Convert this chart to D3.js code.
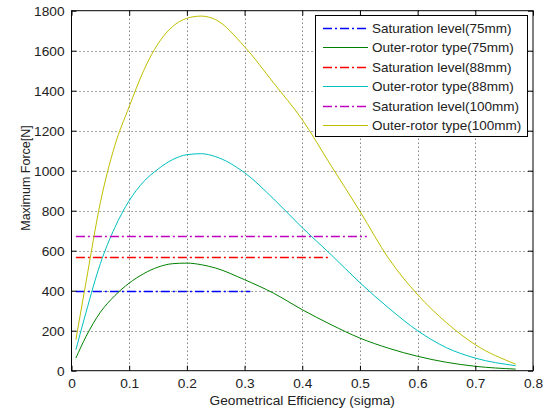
<!DOCTYPE html>
<html><head><meta charset="utf-8">
<script src="https://cdn.jsdelivr.net/npm/d3@7"></script>
<style>
html,body{margin:0;padding:0;background:#fff;}
svg{display:block;font-family:"Liberation Sans",Arial,sans-serif;}
</style></head>
<body><svg id="c" width="552" height="414"></svg>
<script>
const sigma = [0.0076,0.025,0.05,0.075,0.1,0.125,0.15,0.175,0.2,0.225,0.25,0.3,0.35,0.4,0.45,0.5,0.55,0.6,0.65,0.7,0.77];
const outer75  = [63,170,292,375,438,485,518,535,538,530,513,455,388,305,230,163,112,72,42,22,8];
const outer88  = [105,290,535,715,850,945,1008,1055,1080,1085,1070,990,860,715,580,440,313,200,115,63,25];
const outer100 = [155,440,840,1125,1320,1500,1635,1720,1762,1773,1755,1620,1440,1255,1025,797,560,380,240,130,33];
const satLevels = [401,566,675];
const satEnds = [0.31,0.445,0.512];
const satStart = 0.0076;
const xTicks = [0,0.1,0.2,0.3,0.4,0.5,0.6,0.7,0.8];
const yTicks = [0,200,400,600,800,1000,1200,1400,1600,1800];
const legendLabels = ["Saturation level(75mm)","Outer-rotor type(75mm)","Saturation level(88mm)","Outer-rotor type(88mm)","Saturation level(100mm)","Outer-rotor type(100mm)"];
const colors = ["#0000ff","#008000","#ff0000","#00bfbf","#bf00bf","#bfbf00"];

(function(){
const L=71.5, R=533, T=10.7, B=370.7;
const svg = d3.select("#c");
const x = d3.scaleLinear().domain([0,0.8]).range([L,R]);
const y = d3.scaleLinear().domain([0,1800]).range([B,T]);

// grid
const g = svg.append("g");
g.selectAll("line.gx").data(xTicks.slice(1,-1)).enter().append("line")
  .attr("x1",d=>Math.round(x(d))+0.5).attr("x2",d=>Math.round(x(d))+0.5)
  .attr("y1",T).attr("y2",B).attr("stroke","#000").attr("stroke-width",1)
  .attr("stroke-dasharray","1,3").attr("opacity",0.7);
g.selectAll("line.gy").data(yTicks.slice(1,-1)).enter().append("line")
  .attr("y1",d=>Math.round(y(d))+0.5).attr("y2",d=>Math.round(y(d))+0.5)
  .attr("x1",L).attr("x2",R).attr("stroke","#000").attr("stroke-width",1)
  .attr("stroke-dasharray","1,3").attr("opacity",0.7);

// series
const series = [
  {type:"sat", v:satLevels[0], end:satEnds[0], c:colors[0]},
  {type:"curve", v:outer75, c:colors[1]},
  {type:"sat", v:satLevels[1], end:satEnds[1], c:colors[2]},
  {type:"curve", v:outer88, c:colors[3]},
  {type:"sat", v:satLevels[2], end:satEnds[2], c:colors[4]},
  {type:"curve", v:outer100, c:colors[5]}
];
const line = d3.line().x(d=>x(d[0])).y(d=>y(d[1])).curve(d3.curveMonotoneX);
series.forEach(s=>{
  if(s.type==="curve"){
    svg.append("path").datum(sigma.map((t,i)=>[t,s.v[i]]))
      .attr("d",line).attr("fill","none").attr("stroke",s.c).attr("stroke-width",1);
  } else {
    const yy = Math.round(y(s.v))+0.5;
    svg.append("line").attr("x1",x(satStart)).attr("x2",x(s.end))
      .attr("y1",yy).attr("y2",yy).attr("stroke",s.c).attr("stroke-width",1.5)
      .attr("stroke-dasharray","9,3,2,3");
  }
});

// axes
const ax = svg.append("g");
const axBot = d3.axisBottom(x).tickValues(xTicks).tickSizeInner(-5).tickSizeOuter(0).tickPadding(8).tickFormat(d=>d===0?"0":d3.format(".1f")(d));
const axTop = d3.axisTop(x).tickValues(xTicks).tickSizeInner(-5).tickSizeOuter(0).tickFormat("");
const axLeft = d3.axisLeft(y).tickValues(yTicks).tickSizeInner(-5).tickSizeOuter(0).tickPadding(7).tickFormat(d3.format("d"));
const axRight = d3.axisRight(y).tickValues(yTicks).tickSizeInner(-5).tickSizeOuter(0).tickFormat("");
ax.append("g").attr("transform",`translate(0,${B})`).call(axBot);
ax.append("g").attr("transform",`translate(0,${T})`).call(axTop);
ax.append("g").attr("transform",`translate(${L},0)`).call(axLeft);
ax.append("g").attr("transform",`translate(${R},0)`).call(axRight);
ax.selectAll(".domain").remove();
ax.selectAll("line").attr("stroke","#000");
ax.selectAll("text").attr("font-size","13.7px").attr("fill","#222").attr("font-family","Liberation Sans, Arial, sans-serif");
svg.append("rect").attr("x",L).attr("y",T).attr("width",R-L).attr("height",B-T)
  .attr("fill","none").attr("stroke","#000").attr("stroke-width",1);

// axis titles
svg.append("text").attr("x",(L+R)/2).attr("y",405).attr("text-anchor","middle")
  .attr("font-size","13.7px").attr("fill","#222").text("Geometrical Efficiency (sigma)");
svg.append("text").attr("transform","translate(30,178) rotate(-90)").attr("text-anchor","middle")
  .attr("font-size","12.5px").attr("fill","#222").text("Maximum Force[N]");

// legend
const lg = svg.append("g");
lg.append("rect").attr("x",315.5).attr("y",15.5).attr("width",212).attr("height",121)
  .attr("fill","#fff").attr("stroke","#000").attr("stroke-width",1);
legendLabels.forEach((lab,i)=>{
  const yy = Math.round(28 + i*19.4)+0.5;
  const s = series[i];
  lg.append("line").attr("x1",323).attr("x2",368).attr("y1",yy).attr("y2",yy)
    .attr("stroke",s.c).attr("stroke-width",s.type==="sat"?1.5:1)
    .attr("stroke-dasharray", s.type==="sat" ? "9,3,2,3" : null);
  lg.append("text").attr("x",372).attr("y",yy).attr("dy","0.35em")
    .attr("font-size","13.5px").attr("fill","#222").text(lab);
});
})();
</script></body></html>
